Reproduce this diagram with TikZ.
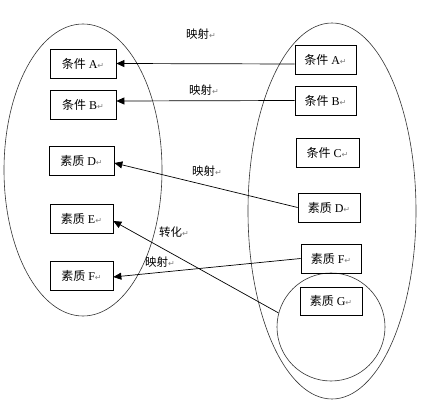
\documentclass[tikz,border=0pt]{standalone}
\usepackage{fontspec}
\setmainfont{Liberation Serif}
\newfontfamily\cjk{Noto Sans CJK SC}
\newfontfamily\dejavu{DejaVu Sans}
\usetikzlibrary{shapes.geometric, arrows.meta, positioning}
\newcommand\retmark{{\dejavu\fontsize{8}{9}\selectfont\color{gray}↵}}

\begin{document}
\begin{tikzpicture}[x=1pt, y=-1pt,
  setbox/.style={draw, line width=0.7pt, minimum height=29pt, inner sep=0pt, font=\fontsize{12}{14}\selectfont},
  setring/.style={draw, line width=0.6pt, black!80, inner sep=0pt},
  maparrow/.style={line width=0.7pt, -{Triangle[length=8pt, width=7pt]}},
  maplabel/.style={anchor=west, inner sep=0pt, font=\fontsize{11.5}{13}\selectfont}]
  \useasboundingbox[fill=white] (0,0) rectangle (426,406);

  % Two sets
  \node[setring, ellipse, minimum width=158pt, minimum height=292pt] (lset) at (83,170) {};
  \node[setring, ellipse, minimum width=168pt, minimum height=376pt] (rset) at (332,211) {};
  \node[setring, circle, minimum size=108pt] (gset) at (331,327) {};

  % Left elements
  \node[setbox, minimum width=66pt] (lA) at (83,63.5) {{\cjk 条件} A\retmark};
  \node[setbox, minimum width=66pt] (lB) at (83,104.5) {{\cjk 条件} B\retmark};
  \node[setbox, minimum width=65pt] (lD) at (81.5,160.5) {{\cjk 素质} D\retmark};
  \node[setbox, minimum width=63pt] (lE) at (81.5,218.5) {{\cjk 素质} E\retmark};
  \node[setbox, minimum width=63pt] (lF) at (81.5,275.5) {{\cjk 素质} F\retmark};

  % Right elements
  \node[setbox, minimum width=61pt] (rA) at (325.5,59.5) {{\cjk 条件} A\retmark};
  \node[setbox, minimum width=61pt] (rB) at (325.5,100.5) {{\cjk 条件} B\retmark};
  \node[setbox, minimum width=63pt] (rC) at (327.5,152.5) {{\cjk 条件} C\retmark};
  \node[setbox, minimum width=62pt] (rD) at (329,207.5) {{\cjk 素质} D\retmark};
  \node[setbox, minimum width=60pt] (rF) at (331,258.5) {{\cjk 素质} F\retmark};
  \node[setbox, minimum width=62pt, minimum height=28pt] (rG) at (331,301) {{\cjk 素质} G\retmark};

  % Mappings
  \draw[maparrow] ([yshift=-4.5pt]rA.west) -- (lA.east);
  \draw[maparrow] (rB.west) -- ([yshift=3.5pt]lB.east);
  \draw[maparrow] (rD.west) -- ([yshift=-2.5pt]lD.east);
  \draw[maparrow] (rF.west) -- ([yshift=-1.5pt]lF.east);
  \draw[maparrow] (gset.165) -- ([yshift=-2.5pt]lE.east);

  % Labels
  \node[maplabel] (m1) at (186,34) {\cjk 映射\retmark};
  \node[maplabel] (m2) at (189,90) {\cjk 映射\retmark};
  \node[maplabel] (m3) at (192,171) {\cjk 映射\retmark};
  \node[maplabel] (t1) at (159,232) {\cjk 转化\retmark};
  \node[maplabel] (m4) at (145,262) {\cjk 映射\retmark};
\end{tikzpicture}
\end{document}
